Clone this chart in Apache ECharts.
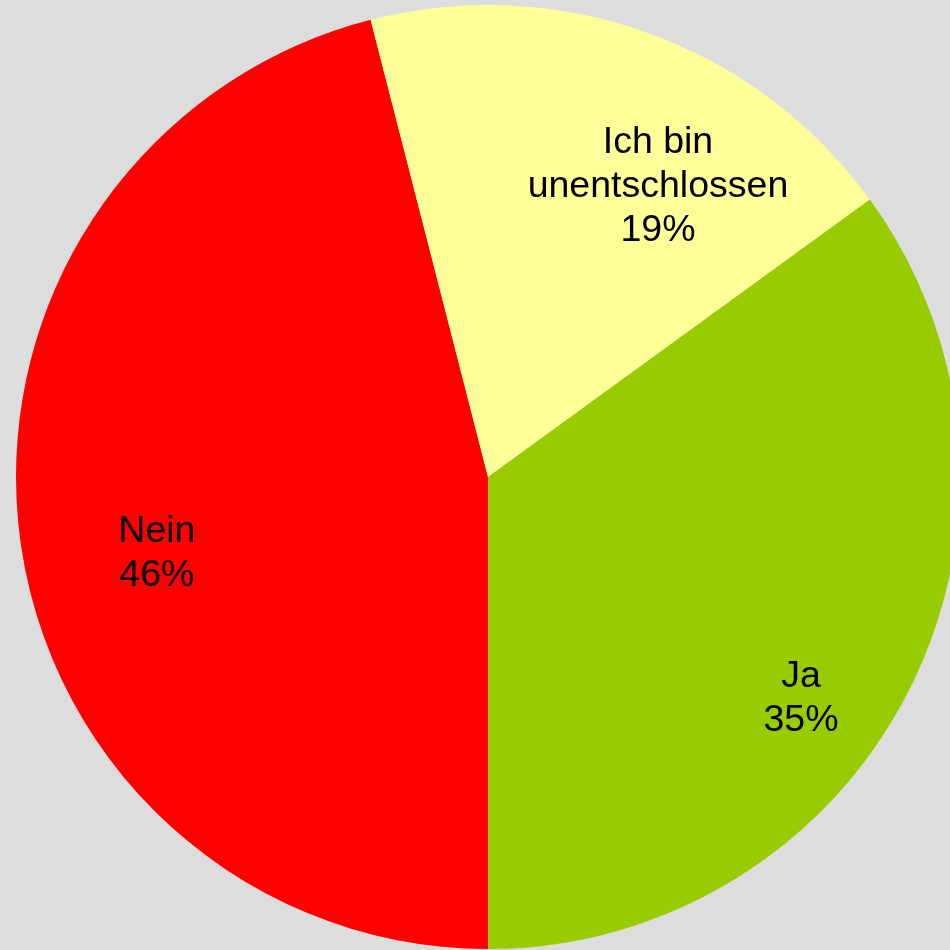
<!DOCTYPE html>
<html>
<head>
<meta charset="utf-8">
<script src="https://cdn.jsdelivr.net/npm/echarts@6/dist/echarts.min.js"></script>
<style>
    html, body { margin: 0; padding: 0; background: #dddddd; }
    #chart { width: 950px; height: 950px; }
</style>
</head>
<body>
<div id="chart"></div>
<script>
// slice names and shares (percent), order as drawn clockwise from 6 o'clock
const categories = ['Nein', 'Ich bin\nunentschlossen', 'Ja']
const values = [46, 19, 35]
const colors = ['#ff0000', '#ffff99', '#99cc00']

// nudge labels from the mid-radius spot to where the original puts them
const labelShift = [[-94, 47], [89, -65], [100, 113]]

const myChart = echarts.init(document.getElementById('chart'))

let option = {
    backgroundColor: '#dddddd',
    animation: false,
    series: [
        {
            type: 'pie',
            center: [488, 477],
            radius: 472,
            startAngle: 270,
            clockwise: true,
            avoidLabelOverlap: false,
            silent: true,
            itemStyle: {
                borderWidth: 0
            },
            label: {
                show: true,
                position: 'inside',
                formatter: '{b}\n{d}%',
                color: '#000000',
                fontFamily: '"Liberation Sans", Arial, sans-serif',
                fontSize: 37.5,
                lineHeight: 44,
                align: 'center'
            },
            labelLine: { show: false },
            labelLayout: function (params) {
                const s = labelShift[params.dataIndex]
                return { dx: s[0], dy: s[1] }
            },
            data: categories.map((name, i) => ({
                name: name,
                value: values[i],
                itemStyle: { color: colors[i] }
            }))
        }
    ]
}

myChart.setOption(option)
</script>
</body>
</html>
